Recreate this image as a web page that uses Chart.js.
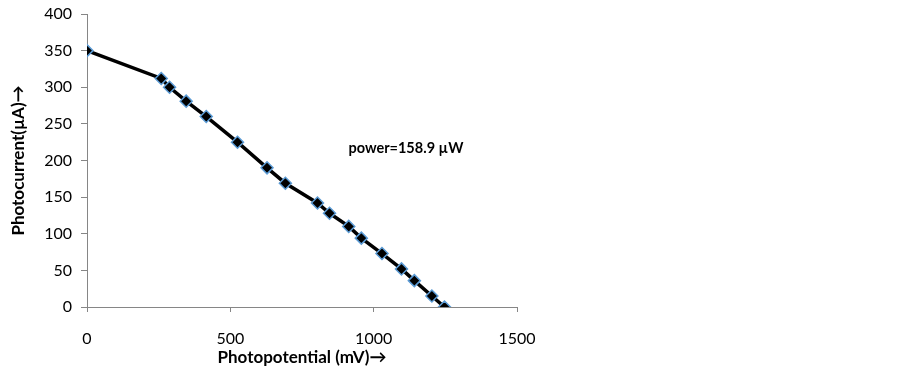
<!DOCTYPE html>
<html>
<head>
<meta charset="utf-8">
<script src="https://cdn.jsdelivr.net/npm/chart.js@4/dist/chart.umd.min.js"></script>
<style>
html,body{margin:0;padding:0;background:#fff;}
#wrap{width:903px;height:378px;position:relative;}
</style>
</head>
<body>
<div id="wrap"><canvas id="c" width="903" height="378"></canvas></div>
<script>
const potential = [0, 259, 288, 346, 416, 525, 628, 692, 804, 846, 913, 957, 1029, 1097, 1142, 1203, 1247];
const current   = [350, 312, 300, 281, 260, 225, 190, 169, 142, 128, 110, 94, 73, 52, 36, 15, 0];
const xTitle = 'Photopotential (mV)\u2192';
const yTitle = 'Photocurrent(\u00b5A)\u2192';
const noteText = 'power=158.9 \u00b5W';
const notePos = [912, 217];

const FONT = 'Lato, "Open Sans", sans-serif';
const AXIS = '#868686';

const notePlugin = {
  id: 'note',
  afterDraw(chart) {
    const ctx = chart.ctx;
    const x = chart.scales.x.getPixelForValue(notePos[0]);
    const y = chart.scales.y.getPixelForValue(notePos[1]);
    ctx.save();
    ctx.font = 'bold 14.5px ' + FONT;
    ctx.fillStyle = '#000';
    ctx.textAlign = 'left';
    ctx.textBaseline = 'middle';
    ctx.fillText(noteText, x, y);
    ctx.restore();
  }
};

new Chart(document.getElementById('c'), {
  type: 'scatter',
  data: {
    datasets: [{
      data: potential.map((v, i) => ({x: v, y: current[i]})),
      showLine: true,
      borderColor: '#000',
      borderWidth: 3.5,
      pointStyle: 'rectRot',
      pointRadius: 6,
      pointBackgroundColor: '#000',
      pointBorderColor: '#5b9bd5',
      pointBorderWidth: 1.5,
      tension: 0
    }]
  },
  options: {
    responsive: false,
    animation: false,
    layout: {padding: {left: 0, right: 386, top: 14, bottom: 6}},
    plugins: {legend: {display: false}, tooltip: {enabled: false}},
    scales: {
      x: {
        type: 'linear', min: 0, max: 1500,
        ticks: {stepSize: 500, color: '#000', font: {family: FONT, size: 16}, padding: 17, callback: v => String(v)},
        grid: {drawOnChartArea: false, drawTicks: true, tickLength: 5, color: AXIS},
        border: {display: true, color: AXIS, width: 1},
        title: {display: true, text: xTitle, color: '#000', font: {family: FONT, size: 17, weight: 'bold'}, padding: {top: 2, bottom: 4}},
        afterFit(s) { s.height = 65; }
      },
      y: {
        type: 'linear', min: 0, max: 400,
        ticks: {stepSize: 50, color: '#000', font: {family: FONT, size: 16}, padding: 9, callback: v => String(v)},
        grid: {drawOnChartArea: false, drawTicks: true, tickLength: 6, color: AXIS},
        border: {display: true, color: AXIS, width: 1},
        title: {display: true, text: yTitle, color: '#000', font: {family: FONT, size: 17, weight: 'bold'}, padding: {top: 8, bottom: 4}},
        afterFit(s) { s.width = 87; s.paddingTop = 0; s.paddingBottom = 0; }
      }
    }
  },
  plugins: [notePlugin]
});
</script>
</body>
</html>
